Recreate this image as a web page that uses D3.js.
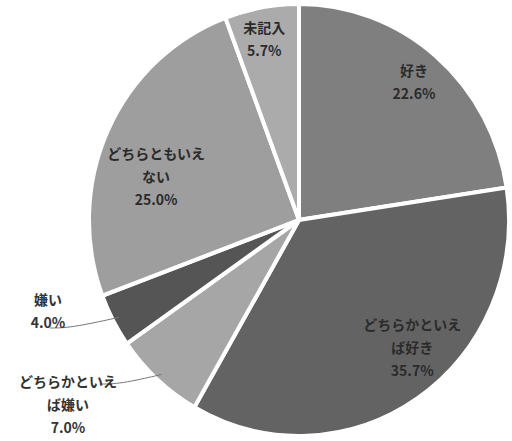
<!DOCTYPE html>
<html>
<head>
<meta charset="utf-8">
<script src="https://cdn.jsdelivr.net/npm/d3@7"></script>
<style>
  body { margin: 0; background: #fff; }
  svg { display: block; }
  text { font-family: "Noto Sans CJK JP", "Noto Sans", sans-serif; }
</style>
</head>
<body>
<div id="chart"></div>
<script>
// data
const categories = ["好き", "どちらかといえば好き", "どちらかといえば嫌い", "嫌い", "どちらともいえない", "未記入"]
const percents = [22.6, 35.7, 7.0, 4.0, 25.0, 5.7]
const colors = ["#7f7f7f", "#636363", "#a6a6a6", "#555555", "#9e9e9e", "#ababab"]

function wrapLabel(name) {
  // break long names every 7 chars like the original
  let lines = []
  for (let i = 0; i < name.length; i += 7) lines.push(name.slice(i, i + 7))
  return lines
}

function drawPie() {
  const width = 512,
    height = 441
  const cx = 299, cy = 220, rx = 210, ry = 216

  const svg = d3.select("#chart").append("svg")
    .attr("width", width)
    .attr("height", height)
    .attr("viewBox", [0, 0, width, height])

  const data = categories.map((c, i) => ({ name: c, value: percents[i], color: colors[i] }))

  const pie = d3.pie().sort(null).value(d => d.value)
  const arcs = pie(data)

  const arc = d3.arc().innerRadius(0).outerRadius(rx)

  const pieG = svg.append("g")
    .attr("transform", `translate(${cx},${cy}) scale(1,${ry / rx})`)

  pieG.selectAll("path")
    .data(arcs)
    .enter()
    .append("path")
    .attr("d", arc)
    .attr("fill", d => d.data.color)
    .attr("stroke", "#fff")
    .attr("stroke-width", 4)
    .attr("stroke-linejoin", "miter")

  const labelG = svg.append("g").attr("transform", `translate(${cx},${cy})`)

  // label radius factors for inside labels, null = outside label
  const labelRadius = [0.84, 0.80, null, null, 0.71, 0.85]
  // small angle nudges (degrees) for inside labels
  const labelShift = [0, -8, 0, 0, -8, -1]
  // outside labels: text position relative to center
  const outsidePos = { 2: [-231, 162], 3: [-251, 80] }
  const lineH = 23

  function polar(angle, r) {
    return [Math.sin(angle) * r, -Math.cos(angle) * r * ry / rx]
  }

  arcs.forEach((d, i) => {
    const mid = (d.startAngle + d.endAngle) / 2
    const lines = wrapLabel(d.data.name).concat([d.data.value.toFixed(1) + "%"])
    let x, y
    if (labelRadius[i] != null) {
      [x, y] = polar(mid + labelShift[i] * Math.PI / 180, rx * labelRadius[i])
      y -= (lines.length - 1) * lineH / 2
    } else {
      [x, y] = outsidePos[i]
      const end = polar(mid, rx * 0.97)
      const startX = x + (lines[0].length > 3 ? 52 : 22)
      const startY = lines[0].length > 3 ? y + 2 : y + lineH + 5
      labelG.append("path")
        .attr("d", d3.line().curve(d3.curveBasis)([[startX - 20, startY], [startX, startY], [end[0], end[1]]]))
        .attr("fill", "none")
        .attr("stroke", "#777")
        .attr("stroke-width", 1)
    }
    const t = labelG.append("text")
      .attr("text-anchor", "middle")
      .attr("font-size", 14)
      .attr("font-weight", "bold")
      .attr("fill", labelRadius[i] != null ? "#2b2b2b" : "#333")
    lines.forEach((ln, k) => {
      t.append("tspan")
        .attr("x", x)
        .attr("y", y + k * lineH + 5)
        .text(ln)
    })
  })
}

drawPie()
</script>
</body>
</html>
